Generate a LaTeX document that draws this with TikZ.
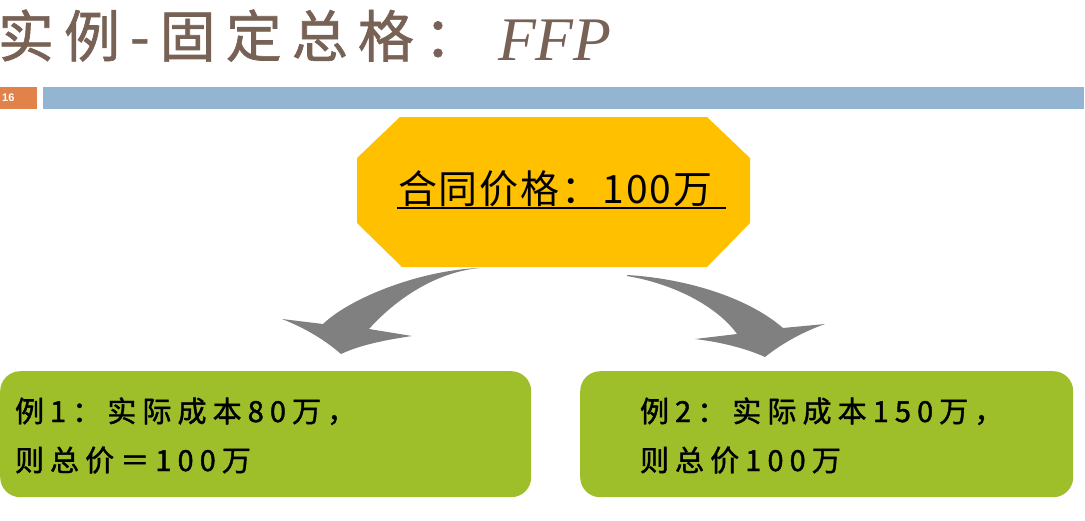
\documentclass[tikz,border=0pt]{standalone}
\usepackage{fontspec}
\newfontfamily\titlecjk[LetterSpace=18,FakeBold=1.2]{Noto Sans CJK SC}
\newfontfamily\pricecjk[LetterSpace=5]{Noto Sans CJK SC}
\newfontfamily\boxcjk[LetterSpace=21,FakeBold=1.4]{Noto Sans CJK SC}
\newfontfamily\ffpfont{Liberation Serif}
\newfontfamily\numfont{Liberation Sans}
\definecolor{numorange}{RGB}{224,130,74}
\definecolor{barblue}{RGB}{148,181,210}
\definecolor{titlebrown}{RGB}{120,98,86}
\definecolor{octyellow}{RGB}{255,192,0}
\definecolor{boxgreen}{RGB}{158,190,42}
\definecolor{arrowgray}{RGB}{128,128,128}
\tikzset{
  txt/.style={anchor=base west, inner sep=0pt, outer sep=0pt},
  boxtxt/.style={txt, font=\boxcjk\fontsize{29}{29}\selectfont},
  greenbox/.style={rectangle, rounded corners=20pt, fill=boxgreen, draw=none, inner sep=0pt, anchor=north west},
  blockarrow/.style={fill=arrowgray, draw=none},
}
\begin{document}
\begin{tikzpicture}[x=1pt,y=-1pt]
\useasboundingbox (0,0) rectangle (1085,520);
% header bars
\fill[numorange] (0,87) rectangle (37,109);
\fill[barblue] (43,87) rectangle (1084,109);
\node[anchor=west, inner sep=0pt, text=white, font=\numfont\bfseries\fontsize{11}{11}\selectfont] (num) at (2,98) {16};
% title
\node[txt, text=titlebrown, font=\titlecjk\fontsize{56}{56}\selectfont] (title) at (-2,57) {实例-固定总格：};
\node[txt, text=titlebrown, font=\ffpfont\itshape\fontsize{62}{62}\selectfont] (ffp) at (498,60) {FFP};
% block arrows (drawn first, tails hidden under the octagon)
\fill[blockarrow] (480,268) .. controls (420,270) and (350,298) .. (323,324)
  -- (282,319) .. controls (305,328) and (325,340) .. (341,354)
  .. controls (360,345) and (385,340) .. (412,336)
  -- (369,329) .. controls (395,300) and (435,272) .. (480,268) -- cycle;
\fill[blockarrow] (627,275) .. controls (680,278) and (745,295) .. (783,328)
  -- (825,324) .. controls (800,333) and (780,345) .. (765,357)
  .. controls (745,348) and (720,342) .. (695,339)
  -- (737,334) .. controls (720,310) and (680,285) .. (627,276) -- cycle;
% octagon
\fill[octyellow] (400,117) -- (707,117) -- (750,158) -- (750,223) -- (707,267)
  -- (402,267) -- (357,223) -- (357,158) -- cycle;
\node[txt, font=\pricecjk\fontsize{39}{39}\selectfont] (price) at (398,203) {合同价格：100万};
\draw[line width=2pt] (397,207.5) -- (726,207.5);
% green boxes
\node[greenbox, minimum width=531pt, minimum height=126pt] (box1) at (0,371) {};
\node[greenbox, minimum width=493pt, minimum height=126pt] (box2) at (580,371) {};
\node[boxtxt] (b1l1) at (15,422) {例1：实际成本80万，};
\node[boxtxt] (b1l2) at (15,471) {则总价＝100万};
\node[boxtxt] (b2l1) at (640,422) {例2：实际成本150万，};
\node[boxtxt] (b2l2) at (640,471) {则总价100万};
\end{tikzpicture}
\end{document}
